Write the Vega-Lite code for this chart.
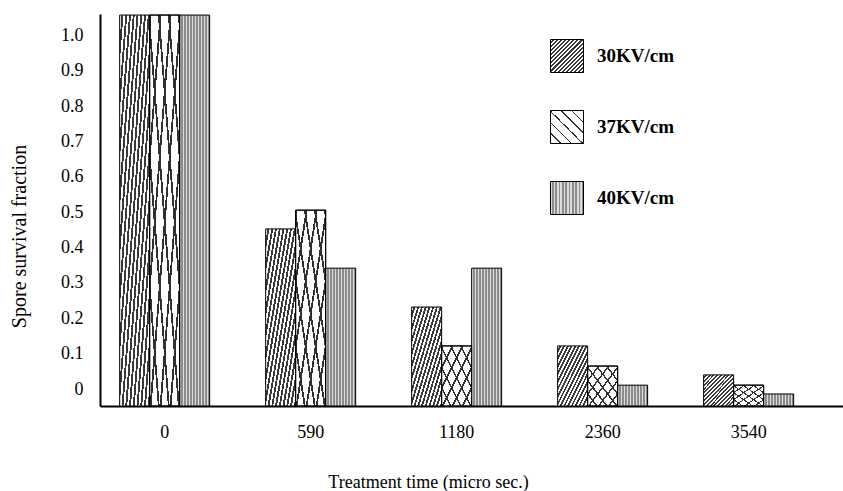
{
  "$schema": "https://vega.github.io/schema/vega-lite/v6.json",
  "width": 743,
  "height": 392,
  "autosize": {"type": "none"},
  "padding": {"left": 100, "top": 14, "right": 0, "bottom": 85},
  "background": "white",
  "config": {
    "font": "Liberation Serif",
    "view": {"stroke": null}
  },
  "data": {
    "values": [
      {"time": "0", "series": "30KV/cm", "value": 1.058},
      {"time": "0", "series": "37KV/cm", "value": 1.058},
      {"time": "0", "series": "40KV/cm", "value": 1.058},
      {"time": "590", "series": "30KV/cm", "value": 0.453},
      {"time": "590", "series": "37KV/cm", "value": 0.506},
      {"time": "590", "series": "40KV/cm", "value": 0.342},
      {"time": "1180", "series": "30KV/cm", "value": 0.232},
      {"time": "1180", "series": "37KV/cm", "value": 0.122},
      {"time": "1180", "series": "40KV/cm", "value": 0.342},
      {"time": "2360", "series": "30KV/cm", "value": 0.122},
      {"time": "2360", "series": "37KV/cm", "value": 0.065},
      {"time": "2360", "series": "40KV/cm", "value": 0.011},
      {"time": "3540", "series": "30KV/cm", "value": 0.040},
      {"time": "3540", "series": "37KV/cm", "value": 0.011},
      {"time": "3540", "series": "40KV/cm", "value": -0.014}
    ]
  },
  "encoding": {
    "x": {
      "field": "time",
      "type": "nominal",
      "sort": ["0", "590", "1180", "2360", "3540"],
      "scale": {"paddingInner": 0.3836, "paddingOuter": 0.2365, "align": 0.285},
      "axis": {
        "title": "Treatment time (micro sec.)",
        "labelAngle": 0,
        "ticks": false,
        "grid": false,
        "domainColor": "black",
        "domainWidth": 2,
        "labelFontSize": 18,
        "labelPadding": 17,
        "labelColor": "black",
        "titleFontSize": 18,
        "titleFontWeight": "normal",
        "titleColor": "black",
        "titleX": 328,
        "titleY": 76,
        "titleBaseline": "middle",
        "titleAlign": "center"
      }
    },
    "xOffset": {
      "field": "series",
      "type": "nominal",
      "scale": {"domain": ["30KV/cm", "37KV/cm", "40KV/cm"], "paddingInner": 0, "paddingOuter": 0}
    },
    "y": {
      "field": "value",
      "type": "quantitative",
      "scale": {"domain": [-0.048, 1.061], "nice": false, "zero": false},
      "axis": {
        "title": "Spore survival fraction",
        "values": [0, 0.1, 0.2, 0.3, 0.4, 0.5, 0.6, 0.7, 0.8, 0.9, 1.0],
        "labelExpr": "datum.value === 0 ? '0' : format(datum.value, '.1f')",
        "ticks": false,
        "grid": false,
        "domainColor": "black",
        "domainWidth": 2,
        "labelFontSize": 18,
        "labelColor": "black",
        "labelPadding": 17,
        "titleFontSize": 20,
        "titleFontWeight": "normal",
        "titleColor": "black",
        "titleX": -81,
        "titleY": 222,
        "titleAngle": -90,
        "titleBaseline": "middle",
        "titleAlign": "center"
      }
    },
    "y2": {"datum": -0.048}
  },
  "layer": [
    {
      "mark": {"type": "bar", "stroke": "black", "strokeWidth": 1},
      "encoding": {
        "fill": {
          "field": "series",
          "type": "nominal",
          "scale": {
            "domain": ["30KV/cm", "37KV/cm", "40KV/cm"],
            "range": [
              {"expr": "{gradient:'linear',x1:0,y1:0,x2:1,y2:1,stops:[{offset:0,color:'#fff'},{offset:0.03125,color:'#fff'},{offset:0.03125,color:'#3a3a3a'},{offset:0.0625,color:'#3a3a3a'},{offset:0.0625,color:'#fff'},{offset:0.09375,color:'#fff'},{offset:0.09375,color:'#3a3a3a'},{offset:0.125,color:'#3a3a3a'},{offset:0.125,color:'#fff'},{offset:0.15625,color:'#fff'},{offset:0.15625,color:'#3a3a3a'},{offset:0.1875,color:'#3a3a3a'},{offset:0.1875,color:'#fff'},{offset:0.21875,color:'#fff'},{offset:0.21875,color:'#3a3a3a'},{offset:0.25,color:'#3a3a3a'},{offset:0.25,color:'#fff'},{offset:0.28125,color:'#fff'},{offset:0.28125,color:'#3a3a3a'},{offset:0.3125,color:'#3a3a3a'},{offset:0.3125,color:'#fff'},{offset:0.34375,color:'#fff'},{offset:0.34375,color:'#3a3a3a'},{offset:0.375,color:'#3a3a3a'},{offset:0.375,color:'#fff'},{offset:0.40625,color:'#fff'},{offset:0.40625,color:'#3a3a3a'},{offset:0.4375,color:'#3a3a3a'},{offset:0.4375,color:'#fff'},{offset:0.46875,color:'#fff'},{offset:0.46875,color:'#3a3a3a'},{offset:0.5,color:'#3a3a3a'},{offset:0.5,color:'#fff'},{offset:0.53125,color:'#fff'},{offset:0.53125,color:'#3a3a3a'},{offset:0.5625,color:'#3a3a3a'},{offset:0.5625,color:'#fff'},{offset:0.59375,color:'#fff'},{offset:0.59375,color:'#3a3a3a'},{offset:0.625,color:'#3a3a3a'},{offset:0.625,color:'#fff'},{offset:0.65625,color:'#fff'},{offset:0.65625,color:'#3a3a3a'},{offset:0.6875,color:'#3a3a3a'},{offset:0.6875,color:'#fff'},{offset:0.71875,color:'#fff'},{offset:0.71875,color:'#3a3a3a'},{offset:0.75,color:'#3a3a3a'},{offset:0.75,color:'#fff'},{offset:0.78125,color:'#fff'},{offset:0.78125,color:'#3a3a3a'},{offset:0.8125,color:'#3a3a3a'},{offset:0.8125,color:'#fff'},{offset:0.84375,color:'#fff'},{offset:0.84375,color:'#3a3a3a'},{offset:0.875,color:'#3a3a3a'},{offset:0.875,color:'#fff'},{offset:0.90625,color:'#fff'},{offset:0.90625,color:'#3a3a3a'},{offset:0.9375,color:'#3a3a3a'},{offset:0.9375,color:'#fff'},{offset:0.96875,color:'#fff'},{offset:0.96875,color:'#3a3a3a'},{offset:1,color:'#3a3a3a'}]}"},
              {"expr": "{gradient:'linear',x1:1,y1:0,x2:0,y2:1,stops:[{offset:0,color:'#303030'},{offset:0.03,color:'#303030'},{offset:0.03,color:'#fff'},{offset:0.16667,color:'#fff'},{offset:0.16667,color:'#303030'},{offset:0.19667,color:'#303030'},{offset:0.19667,color:'#fff'},{offset:0.33333,color:'#fff'},{offset:0.33333,color:'#303030'},{offset:0.36333,color:'#303030'},{offset:0.36333,color:'#fff'},{offset:0.5,color:'#fff'},{offset:0.5,color:'#303030'},{offset:0.53,color:'#303030'},{offset:0.53,color:'#fff'},{offset:0.66667,color:'#fff'},{offset:0.66667,color:'#303030'},{offset:0.69667,color:'#303030'},{offset:0.69667,color:'#fff'},{offset:0.83333,color:'#fff'},{offset:0.83333,color:'#303030'},{offset:0.86333,color:'#303030'},{offset:0.86333,color:'#fff'},{offset:1,color:'#fff'}]}"},
              {"expr": "{gradient:'linear',x1:0,y1:0,x2:1,y2:0,stops:[{offset:0,color:'#dcdcdc'},{offset:0.05,color:'#dcdcdc'},{offset:0.05,color:'#8c8c8c'},{offset:0.1,color:'#8c8c8c'},{offset:0.1,color:'#dcdcdc'},{offset:0.15,color:'#dcdcdc'},{offset:0.15,color:'#8c8c8c'},{offset:0.2,color:'#8c8c8c'},{offset:0.2,color:'#dcdcdc'},{offset:0.25,color:'#dcdcdc'},{offset:0.25,color:'#8c8c8c'},{offset:0.3,color:'#8c8c8c'},{offset:0.3,color:'#dcdcdc'},{offset:0.35,color:'#dcdcdc'},{offset:0.35,color:'#8c8c8c'},{offset:0.4,color:'#8c8c8c'},{offset:0.4,color:'#dcdcdc'},{offset:0.45,color:'#dcdcdc'},{offset:0.45,color:'#8c8c8c'},{offset:0.5,color:'#8c8c8c'},{offset:0.5,color:'#dcdcdc'},{offset:0.55,color:'#dcdcdc'},{offset:0.55,color:'#8c8c8c'},{offset:0.6,color:'#8c8c8c'},{offset:0.6,color:'#dcdcdc'},{offset:0.65,color:'#dcdcdc'},{offset:0.65,color:'#8c8c8c'},{offset:0.7,color:'#8c8c8c'},{offset:0.7,color:'#dcdcdc'},{offset:0.75,color:'#dcdcdc'},{offset:0.75,color:'#8c8c8c'},{offset:0.8,color:'#8c8c8c'},{offset:0.8,color:'#dcdcdc'},{offset:0.85,color:'#dcdcdc'},{offset:0.85,color:'#8c8c8c'},{offset:0.9,color:'#8c8c8c'},{offset:0.9,color:'#dcdcdc'},{offset:0.95,color:'#dcdcdc'},{offset:0.95,color:'#8c8c8c'},{offset:1,color:'#8c8c8c'}]}"}
            ]
          },
          "legend": {
            "title": null,
            "orient": "none",
            "legendX": 450,
            "legendY": 25,
            "symbolType": "square",
            "symbolSize": 1089,
            "symbolStrokeColor": "black",
            "symbolStrokeWidth": 1,
            "symbolOpacity": 1,
            "labelFont": "Liberation Serif",
            "labelFontSize": 19,
            "labelFontWeight": "bold",
            "labelColor": "black",
            "labelOffset": 13,
            "rowPadding": 33
          }
        }
      }
    },
    {
      "transform": [{"filter": "datum.series === '37KV/cm'"}],
      "mark": {
        "type": "bar",
        "stroke": "black",
        "strokeWidth": 1,
        "fill": {"gradient": "linear", "x1": 0, "y1": 0, "x2": 1, "y2": 1, "stops": [
          {"offset": 0, "color": "#303030"}, {"offset": 0.03, "color": "#303030"}, {"offset": 0.03, "color": "rgba(255,255,255,0)"}, {"offset": 0.16667, "color": "rgba(255,255,255,0)"},
          {"offset": 0.16667, "color": "#303030"}, {"offset": 0.19667, "color": "#303030"}, {"offset": 0.19667, "color": "rgba(255,255,255,0)"}, {"offset": 0.33333, "color": "rgba(255,255,255,0)"},
          {"offset": 0.33333, "color": "#303030"}, {"offset": 0.36333, "color": "#303030"}, {"offset": 0.36333, "color": "rgba(255,255,255,0)"}, {"offset": 0.5, "color": "rgba(255,255,255,0)"},
          {"offset": 0.5, "color": "#303030"}, {"offset": 0.53, "color": "#303030"}, {"offset": 0.53, "color": "rgba(255,255,255,0)"}, {"offset": 0.66667, "color": "rgba(255,255,255,0)"},
          {"offset": 0.66667, "color": "#303030"}, {"offset": 0.69667, "color": "#303030"}, {"offset": 0.69667, "color": "rgba(255,255,255,0)"}, {"offset": 0.83333, "color": "rgba(255,255,255,0)"},
          {"offset": 0.83333, "color": "#303030"}, {"offset": 0.86333, "color": "#303030"}, {"offset": 0.86333, "color": "rgba(255,255,255,0)"}, {"offset": 1, "color": "rgba(255,255,255,0)"}
        ]}
      }
    }
  ]
}
